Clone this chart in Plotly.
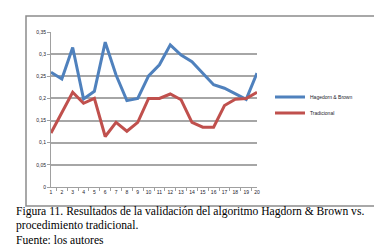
import plotly.graph_objects as go

categories = [str(i) for i in range(1, 21)]
hagedorn = [0.259, 0.244, 0.315, 0.199, 0.216, 0.327, 0.253, 0.195, 0.200, 0.251,
            0.276, 0.321, 0.298, 0.283, 0.257, 0.231, 0.223, 0.210, 0.198, 0.257]
tradicional = [0.122, 0.167, 0.214, 0.189, 0.200, 0.114, 0.146, 0.126, 0.146, 0.200,
               0.200, 0.210, 0.197, 0.146, 0.135, 0.135, 0.184, 0.198, 0.200, 0.214]
y_tick_vals = [0, 0.05, 0.1, 0.15, 0.2, 0.25, 0.3, 0.35]
y_tick_text = ["0", "0,05", "0,1", "0,15", "0,2", "0,25", "0,3", "0,35"]
series_names = ["Hagedorn & Brown", "Tradicional"]
caption_lines = [
    "Figura 11. Resultados de la validación del algoritmo Hagdorn & Brown vs.",
    "procedimiento tradicional.",
    "Fuente: los autores",
]

W, H = 382, 251
L, R, T, B = 43, 249, 24, 179


def px(x):
    return (x - L) / (R - L)


def py(y):
    return (B - y) / (B - T)


fig = go.Figure()
fig.add_trace(go.Scatter(x=categories, y=hagedorn, mode="lines", name=series_names[0],
                         line=dict(color="#4F81BD", width=3), legend="legend"))
fig.add_trace(go.Scatter(x=categories, y=tradicional, mode="lines", name=series_names[1],
                         line=dict(color="#C0504D", width=3), legend="legend2"))

tickfont = dict(family="Liberation Sans, Arial", size=5, color="#1a1a2a")
legfont = dict(family="Liberation Sans, Arial", size=5, color="#1a1a2a")

fig.update_layout(
    width=W, height=H,
    margin=dict(l=L, r=W - R, t=T, b=H - B, pad=0),
    paper_bgcolor="white", plot_bgcolor="white",
    showlegend=True,
    legend=dict(x=px(262), y=py(89), xanchor="left", yanchor="middle",
                font=legfont, bgcolor="rgba(0,0,0,0)", itemwidth=30),
    legend2=dict(x=px(262), y=py(105), xanchor="left", yanchor="middle",
                 font=legfont, bgcolor="rgba(0,0,0,0)", itemwidth=30),
    xaxis=dict(type="category", showgrid=False, showline=True, linecolor="#a0a0a0", linewidth=1,
               ticks="outside", ticklen=3, tickcolor="#a0a0a0", tickson="boundaries",
               tickangle=0, tickfont=tickfont, zeroline=False, fixedrange=True),
    yaxis=dict(range=[0, 0.35], tickvals=y_tick_vals, ticktext=y_tick_text,
               showgrid=True, gridcolor="#a6a6a6", gridwidth=1.5,
               showline=True, linecolor="#a0a0a0", linewidth=1,
               ticks="outside", ticklen=3, tickcolor="#a0a0a0",
               tickfont=tickfont, zeroline=False, fixedrange=True),
    shapes=[dict(type="rect", xref="paper", yref="paper",
                 x0=px(18), x1=px(369), y0=py(198), y1=py(8),
                 line=dict(color="#8c8c8c", width=1.5), fillcolor="rgba(0,0,0,0)", layer="below")],
)

for i, txt in enumerate(caption_lines):
    fig.add_annotation(text=txt, xref="paper", yref="paper", x=px(6), y=py(203 + i * 14.6),
                       xanchor="left", yanchor="middle", showarrow=False,
                       font=dict(family="Liberation Serif, Times New Roman", size=11.6, color="black"))

fig.write_html("out.html")
